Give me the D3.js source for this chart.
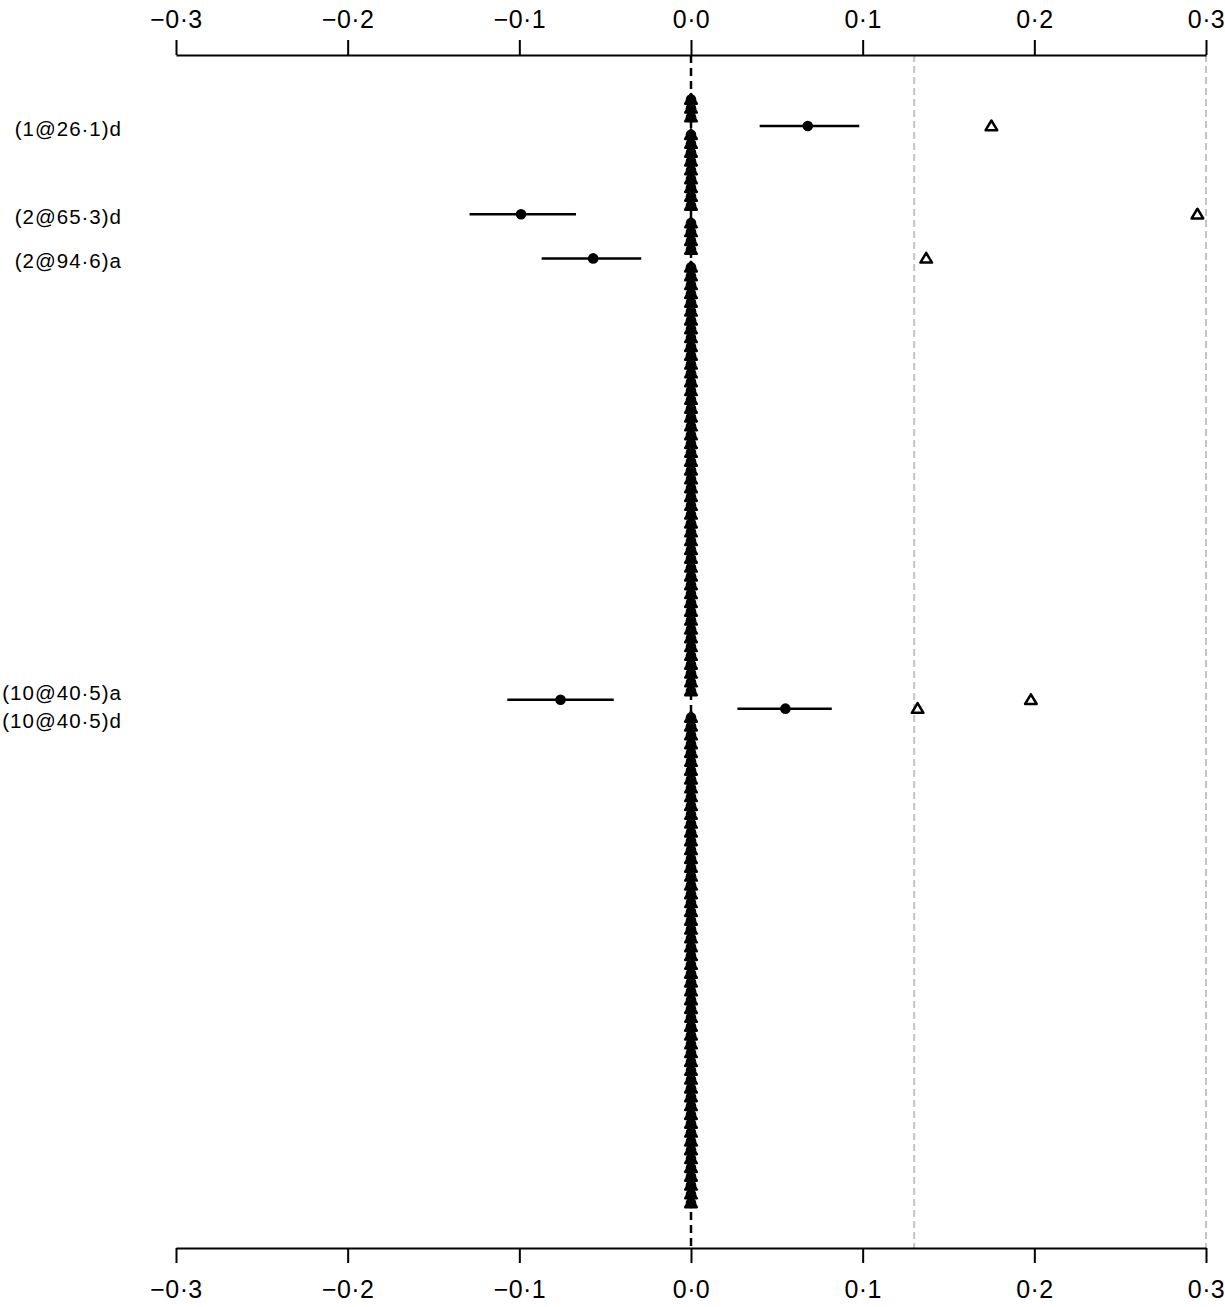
<!DOCTYPE html>
<meta charset="utf-8">
<style>
body { margin: 0; background: #fff; }
svg text { font-family: "Liberation Sans", Arial, sans-serif; fill: #000; }
.axis path, .axis line { stroke: #000; stroke-width: 2px; }
</style>
<body>
<svg width="1225" height="1307"></svg>
</body>
<script src="https://d3js.org/d3.v7.min.js"></script>
<script>

// number of marker positions scanned (rows top to bottom)
var rowCount = 126;

// rows with a non-zero effect
var hitRows   = [3, 13, 18, 68, 69];
var hitLabels = ["(1@26\u00b71)d", "(2@65\u00b73)d", "(2@94\u00b76)a", "(10@40\u00b75)a", "(10@40\u00b75)d"];
var hitEst    = [0.068, -0.099, -0.057, -0.076, 0.055];
var hitLow    = [0.040, -0.129, -0.087, -0.107, 0.027];
var hitHigh   = [0.098, -0.067, -0.029, -0.045, 0.082];
var hitTri    = [0.175, 0.295, 0.137, 0.198, 0.132];

// all other rows sit at zero
var zeroEst = 0, zeroTri = 0;

var xTicks = [-0.3, -0.2, -0.1, 0.0, 0.1, 0.2, 0.3];
var refLines = [0.13, 0.3];

var svg = d3.select("svg"),
    width = +svg.attr("width"),
    height = +svg.attr("height");

var axisTopY = 55, axisBotY = 1248;

var x = d3.scaleLinear().domain([-0.3, 0.3]).range([176, 1206]);
var y = d3.scaleLinear().domain([0, rowCount - 1]).range([99.5, 1203]);

var fmt = function(d) {
  return d3.format(".1f")(d).replace("-", "\u2212").replace(".", "\u00b7");
};

// build row table
var rows = [];
for (var i = 0; i < rowCount; i++) {
  var k = hitRows.indexOf(i);
  if (k >= 0) {
    rows.push({row: i, est: hitEst[k], lo: hitLow[k], hi: hitHigh[k], tri: hitTri[k], label: hitLabels[k]});
  } else {
    rows.push({row: i, est: zeroEst, lo: null, hi: null, tri: zeroTri, label: null});
  }
}

// reference lines
svg.append("g").selectAll("line")
  .data(refLines).enter().append("line")
  .attr("x1", function(d) { return x(d); })
  .attr("x2", function(d) { return x(d); })
  .attr("y1", axisTopY).attr("y2", axisBotY)
  .attr("stroke", "#c4c4c4")
  .attr("stroke-width", 2)
  .attr("stroke-dasharray", "7,4");

// zero line
svg.append("line")
  .attr("x1", x(0)).attr("x2", x(0))
  .attr("y1", axisTopY).attr("y2", axisBotY)
  .attr("stroke", "#000")
  .attr("stroke-width", 2.5)
  .attr("stroke-dasharray", "8,5");

// axes
svg.append("g").attr("class", "axis")
  .attr("transform", "translate(0," + axisTopY + ")")
  .call(d3.axisTop(x).tickValues(xTicks).tickFormat(fmt).tickSize(15).tickSizeOuter(0).tickPadding(12));
svg.append("g").attr("class", "axis")
  .attr("transform", "translate(0," + axisBotY + ")")
  .call(d3.axisBottom(x).tickValues(xTicks).tickFormat(fmt).tickSize(15).tickSizeOuter(0).tickPadding(17));
svg.selectAll(".axis").attr("font-family", null).attr("font-size", null);
svg.selectAll(".axis text").attr("font-size", 25).attr("letter-spacing", 0.4);

// CI lines
var hits = rows.filter(function(d) { return d.lo !== null; });
svg.append("g").selectAll("line")
  .data(hits).enter().append("line")
  .attr("x1", function(d) { return x(d.lo); })
  .attr("x2", function(d) { return x(d.hi); })
  .attr("y1", function(d) { return y(d.row); })
  .attr("y2", function(d) { return y(d.row); })
  .attr("stroke", "#000")
  .attr("stroke-width", 2.5);

// triangles
var tri = "M0,-5.5L5.8,4.2L-5.8,4.2Z";
svg.append("g").selectAll("path")
  .data(rows).enter().append("path")
  .attr("d", tri)
  .attr("transform", function(d) { return "translate(" + x(d.tri) + "," + y(d.row) + ")"; })
  .attr("fill", "none")
  .attr("stroke", "#000")
  .attr("stroke-width", 2.5)
  .attr("stroke-linejoin", "round");

// points
svg.append("g").selectAll("circle")
  .data(rows).enter().append("circle")
  .attr("cx", function(d) { return x(d.est); })
  .attr("cy", function(d) { return y(d.row); })
  .attr("r", 5.3)
  .attr("fill", "#000");

// labels, pushed apart when rows are too close
var labs = hits.map(function(d) { return {label: d.label, y: y(d.row)}; });
var minGap = 28;
for (var j = 1; j < labs.length; j++) {
  if (labs[j].y - labs[j - 1].y < minGap) {
    var mid = (labs[j].y + labs[j - 1].y) / 2;
    labs[j - 1].y = mid - minGap / 2;
    labs[j].y = mid + minGap / 2;
  }
}
svg.append("g").selectAll("text")
  .data(labs).enter().append("text")
  .attr("x", 122)
  .attr("y", function(d) { return d.y + 2.5; })
  .attr("dy", "0.36em")
  .attr("text-anchor", "end")
  .attr("font-size", 20.5)
  .attr("letter-spacing", 1)
  .text(function(d) { return d.label; });

</script>
